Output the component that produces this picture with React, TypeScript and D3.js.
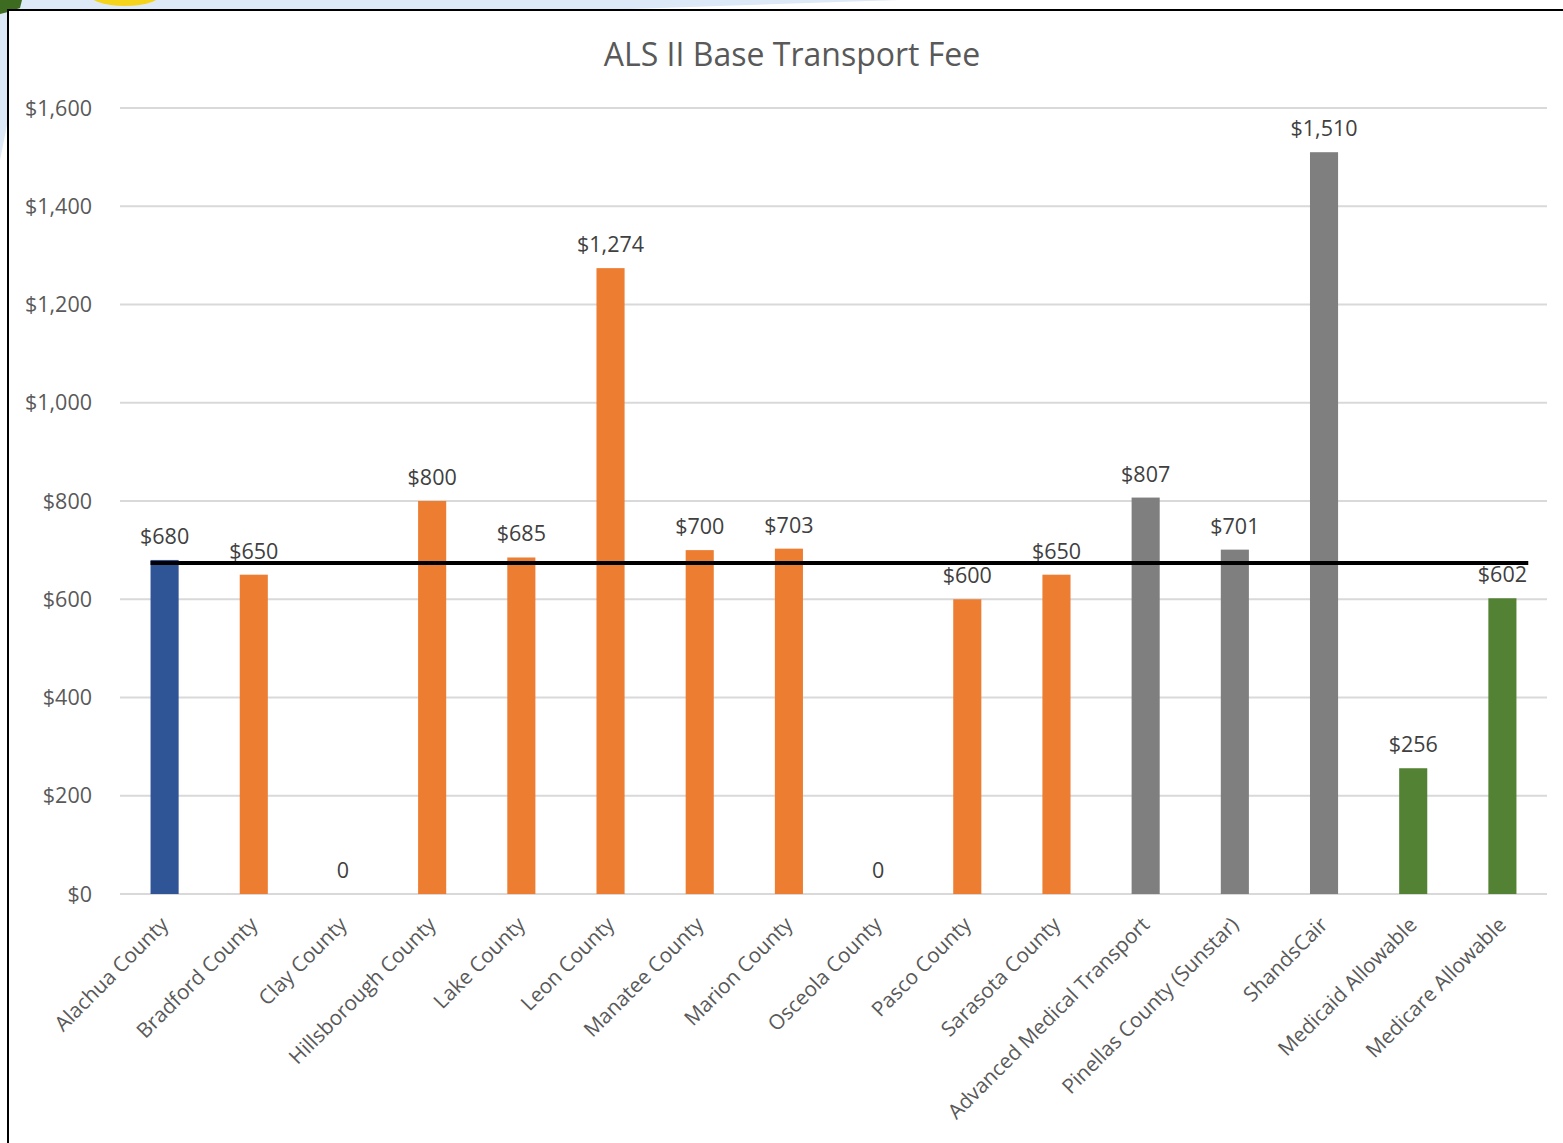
import { useEffect, useRef } from 'react'
import * as d3 from 'd3'

// chart data
const categories = [
  'Alachua County', 'Bradford County', 'Clay County', 'Hillsborough County',
  'Lake County', 'Leon County', 'Manatee County', 'Marion County',
  'Osceola County', 'Pasco County', 'Sarasota County', 'Advanced Medical Transport',
  'Pinellas County (Sunstar)', 'ShandsCair', 'Medicaid Allowable', 'Medicare Allowable',
]
const fees = [680, 650, 0, 800, 685, 1274, 700, 703, 0, 600, 650, 807, 701, 1510, 256, 602]
const groups = ['home', 'county', 'county', 'county', 'county', 'county', 'county', 'county',
  'county', 'county', 'county', 'private', 'private', 'private', 'payer', 'payer']
const yTicks = [0, 200, 400, 600, 800, 1000, 1200, 1400, 1600]
const averageLine = 674

const groupColor: Record<string, string> = {
  home: '#2f5597',
  county: '#ed7d31',
  private: '#7f7f7f',
  payer: '#548235',
}

const WIDTH = 1563
const HEIGHT = 1143
const FONT = "'Open Sans', 'DejaVu Sans', sans-serif"

export default function App() {
  const svgRef = useRef<SVGSVGElement>(null)

  useEffect(() => {
    if (!svgRef.current) return
    const root = d3.select(svgRef.current)
    root.selectAll('*').remove()

    const margin = { top: 108, left: 120, right: 16, bottom: 249 }
    const innerW = WIDTH - margin.left - margin.right
    const innerH = HEIGHT - margin.top - margin.bottom

    // background scrap from the slide, top-left corner
    root.append('path')
      .attr('d', 'M0,0 L900,0 L600,10 L8,10 L8,120 L0,160 Z')
      .attr('fill', '#dde9f6')
    root.append('ellipse')
      .attr('cx', 125).attr('cy', -8).attr('rx', 38).attr('ry', 14)
      .attr('fill', '#f5d31a')
    root.append('path')
      .attr('d', 'M0,0 L22,0 L20,8 L8,12 L0,14 Z')
      .attr('fill', '#3d6b1f')

    // chart frame
    root.append('rect')
      .attr('x', 8).attr('y', 10)
      .attr('width', WIDTH + 20).attr('height', HEIGHT + 20)
      .attr('fill', '#fff')
      .attr('stroke', '#000')
      .attr('stroke-width', 2)

    const g = root.append('g').attr('transform', `translate(${margin.left},${margin.top})`)

    const x = d3.scaleBand().domain(categories).range([0, innerW]).padding(0)
    const y = d3.scaleLinear().domain([0, 1600]).range([innerH, 0])
    const barW = x.bandwidth() * 0.315

    // gridlines
    g.selectAll('.grid')
      .data(yTicks)
      .join('line')
      .attr('x1', 0).attr('x2', innerW)
      .attr('y1', d => y(d)).attr('y2', d => y(d))
      .attr('stroke', '#d9d9d9')
      .attr('stroke-width', 2)

    // y tick labels
    g.selectAll('.ytick')
      .data(yTicks)
      .join('text')
      .attr('x', -28)
      .attr('y', d => y(d))
      .attr('dy', '0.36em')
      .attr('text-anchor', 'end')
      .attr('font-family', FONT)
      .attr('font-size', 21.5)
      .attr('fill', '#595959')
      .text(d => d3.format('$,')(d))

    const rows = categories.map((c, i) => ({ name: c, value: fees[i], group: groups[i] }))

    // bars
    g.selectAll('.bar')
      .data(rows)
      .join('rect')
      .attr('x', d => (x(d.name) || 0) + (x.bandwidth() - barW) / 2)
      .attr('y', d => y(d.value))
      .attr('width', barW)
      .attr('height', d => innerH - y(d.value))
      .attr('fill', d => groupColor[d.group])

    // average line
    const first = categories[0]
    const last = categories[categories.length - 1]
    g.append('line')
      .attr('x1', (x(first) || 0) + (x.bandwidth() - barW) / 2)
      .attr('x2', (x(last) || 0) + x.bandwidth() * 0.79)
      .attr('y1', y(averageLine)).attr('y2', y(averageLine))
      .attr('stroke', '#000')
      .attr('stroke-width', 4)

    // data labels
    g.selectAll('.label')
      .data(rows)
      .join('text')
      .attr('x', d => (x(d.name) || 0) + x.bandwidth() / 2)
      .attr('y', d => y(d.value) - 16)
      .attr('text-anchor', 'middle')
      .attr('font-family', FONT)
      .attr('font-size', 21.5)
      .attr('fill', '#404040')
      .text(d => d.value === 0 ? '0' : d3.format('$,')(d.value))

    // category labels, rotated
    g.selectAll('.cat')
      .data(categories)
      .join('text')
      .attr('transform', d => `translate(${(x(d) || 0) + x.bandwidth() / 2 + 5},${innerH + 32}) rotate(-45)`)
      .attr('text-anchor', 'end')
      .attr('font-family', FONT)
      .attr('font-size', 20.7)
      .attr('fill', '#595959')
      .text(d => d)

    // title
    root.append('text')
      .attr('x', 792)
      .attr('y', 66)
      .attr('text-anchor', 'middle')
      .attr('font-family', FONT)
      .attr('font-size', 32)
      .attr('fill', '#595959')
      .text('ALS II Base Transport Fee')
  }, [])

  return (
    <svg
      ref={svgRef}
      width={WIDTH}
      height={HEIGHT}
      style={{ position: 'absolute', left: 0, top: 0, background: '#fff' }}
    />
  )
}
